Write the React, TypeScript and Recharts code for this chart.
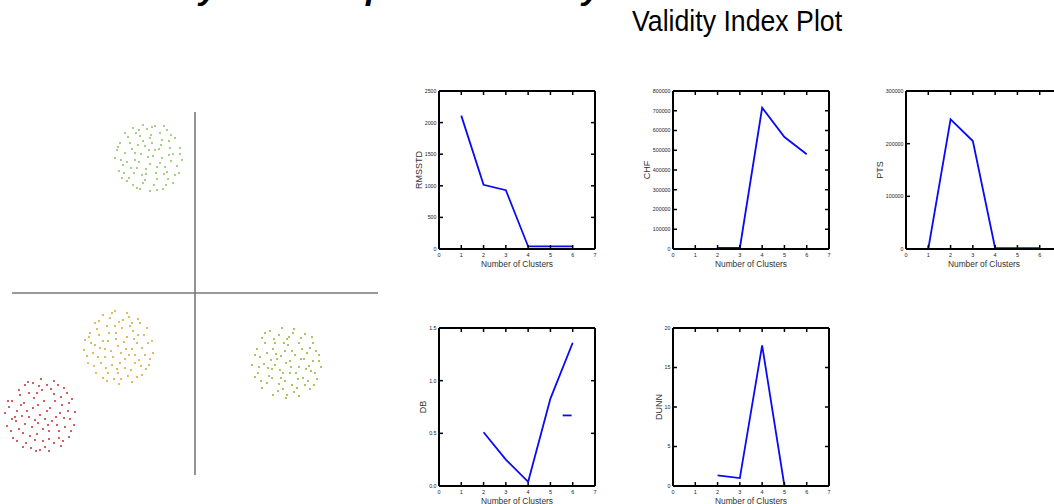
import React from 'react';
import { LineChart, Line, XAxis, YAxis, ScatterChart, Scatter, ReferenceLine } from 'recharts';

const FONT = '"Liberation Sans", Arial, Helvetica, sans-serif';

// ---------- validity index data ----------
const clusterTicks = [0, 1, 2, 3, 4, 5, 6, 7];

const rmsstdK = [1, 2, 3, 4, 5, 6];
const rmsstdValues = [2110, 1015, 930, 40, 40, 40];
const rmsstdTicks = [0, 500, 1000, 1500, 2000, 2500];

const chfK = [2, 3, 4, 5, 6];
const chfValues = [5000, 5000, 715000, 567000, 480000];
const chfTicks = [0, 100000, 200000, 300000, 400000, 500000, 600000, 700000, 800000];

const ptsK = [1, 2, 3, 4, 5, 6];
const ptsValues = [0, 246000, 205000, 1500, 1500, 1500];
const ptsTicks = [0, 100000, 200000, 300000];

const dbK = [2, 3, 4, 5, 6];
const dbValues = [0.51, 0.25, 0.04, 0.83, 1.36];
const dbExtraK = [5.55, 5.95];
const dbExtraValues = [0.67, 0.67];
const dbTicks = [0, 0.5, 1, 1.5];

const dunnK = [2, 3, 4, 5];
const dunnValues = [1.35, 1.0, 17.8, 0];
const dunnTicks = [0, 5, 10, 15, 20];

// ---------- scatter data (pixel-like units, origin at the cross) ----------
const crossH = [-183, 183];
const crossV = [181, -182];

const greenTop: number[][] = [
  [-75, 150], [-70, 160], [-62, 165], [-52, 168], [-40, 167], [-28, 163], [-20, 155], [-15, 145], [-13, 133], [-16, 120],
  [-22, 110], [-32, 104], [-45, 102], [-58, 105], [-68, 112], [-76, 122], [-80, 135], [-78, 143], [-65, 150], [-55, 157],
  [-44, 158], [-33, 153], [-25, 145], [-24, 132], [-28, 121], [-38, 114], [-50, 113], [-61, 120], [-68, 131], [-60, 140],
  [-50, 147], [-40, 143], [-33, 135], [-38, 126], [-49, 124], [-56, 131], [-47, 136], [-43, 150], [-57, 148], [-30, 126],
  [-64, 125], [-53, 118], [-35, 160], [-48, 164], [-70, 140], [-22, 139], [-41, 108], [-59, 160], [-72, 128], [-18, 127],
  [-27, 114], [-66, 115], [-45, 129], [-36, 144], [-54, 139], [-62, 108], [-31, 167], [-74, 133], [-26, 152], [-52, 110],
  [-46, 143], [-39, 120], [-58, 125], [-52, 152], [-34, 148], [-26, 138], [-63, 144], [-71, 120], [-20, 118], [-43, 166],
  [-67, 156], [-29, 108], [-55, 104], [-77, 146], [-38, 103], [-15, 139], [-60, 133], [-42, 137], [-49, 119], [-35, 130],
  [-56, 163], [-24, 158], [-73, 115], [-45, 155], [-31, 119],
];

const yellow: number[][] = [
  [-105, -40], [-100, -30], [-92, -22], [-80, -18], [-68, -20], [-57, -26], [-48, -35], [-43, -48], [-42, -60], [-46, -72],
  [-53, -82], [-63, -89], [-76, -91], [-88, -88], [-99, -80], [-107, -70], [-111, -57], [-110, -47], [-96, -42], [-88, -33],
  [-76, -29], [-65, -33], [-57, -42], [-53, -55], [-56, -67], [-64, -77], [-77, -80], [-89, -75], [-97, -64], [-100, -52],
  [-87, -48], [-79, -40], [-68, -44], [-63, -56], [-70, -66], [-82, -64], [-90, -56], [-77, -53], [-72, -27], [-60, -70],
  [-85, -25], [-50, -62], [-94, -70], [-102, -60], [-67, -83], [-81, -86], [-58, -50], [-74, -60], [-86, -40], [-62, -38],
  [-92, -85], [-47, -50], [-70, -75], [-98, -36], [-83, -72], [-55, -30], [-79, -46], [-66, -62], [-104, -50], [-73, -35],
  [-84, -58], [-71, -49], [-61, -46], [-92, -48], [-75, -70], [-66, -24], [-96, -28], [-51, -42], [-108, -63], [-87, -80],
  [-58, -84], [-45, -66], [-101, -73], [-74, -86], [-69, -56], [-80, -33], [-90, -64], [-60, -62], [-83, -20], [-49, -76],
  [-106, -44], [-63, -30], [-78, -76], [-95, -55], [-54, -73],
];

const greenRight: number[][] = [
  [62, -56], [67, -45], [75, -38], [87, -35], [99, -36], [110, -41], [118, -50], [124, -62], [126, -74], [122, -86],
  [115, -96], [104, -103], [91, -105], [78, -102], [67, -95], [60, -84], [57, -72], [72, -60], [80, -50], [92, -46],
  [104, -50], [112, -60], [114, -73], [108, -85], [97, -92], [84, -91], [74, -83], [69, -71], [82, -66], [90, -58],
  [100, -62], [104, -74], [95, -80], [85, -77], [91, -70], [78, -56], [98, -40], [118, -68], [65, -64], [88, -96],
  [110, -92], [120, -80], [72, -90], [84, -42], [106, -45], [95, -68], [77, -76], [103, -86], [115, -55], [63, -80],
  [86, -85], [99, -99], [81, -61], [109, -66], [93, -52], [70, -50], [121, -58], [116, -78], [90, -88], [76, -67],
  [86, -63], [96, -74], [79, -46], [107, -56], [101, -80], [73, -75], [89, -50], [113, -88], [66, -88], [92, -102],
  [124, -68], [60, -62], [83, -98], [117, -44], [70, -40], [102, -95], [88, -80], [111, -76], [77, -85], [94, -44],
  [80, -72], [106, -66], [97, -58], [64, -74], [119, -92],
];

const red: number[][] = [
  [-183, -108], [-176, -97], [-167, -89], [-154, -86], [-141, -88], [-131, -95], [-123, -106], [-120, -119], [-121, -132], [-126, -144],
  [-134, -153], [-146, -158], [-159, -158], [-172, -154], [-182, -145], [-188, -133], [-190, -120], [-174, -112], [-166, -100], [-153, -97],
  [-141, -101], [-133, -112], [-131, -125], [-136, -138], [-146, -146], [-160, -147], [-172, -140], [-179, -128], [-166, -124], [-157, -112],
  [-145, -115], [-143, -128], [-152, -136], [-163, -134], [-155, -122], [-170, -92], [-128, -100], [-186, -114], [-124, -138], [-150, -154],
  [-178, -148], [-161, -105], [-138, -132], [-168, -118], [-148, -92], [-132, -148], [-184, -138], [-158, -141], [-175, -102], [-140, -108],
  [-150, -126], [-164, -155], [-127, -118], [-180, -124], [-146, -138], [-137, -92], [-170, -131], [-156, -93], [-162, -115], [-135, -120],
  [-160, -127], [-148, -118], [-171, -110], [-139, -124], [-158, -100], [-176, -136], [-130, -134], [-152, -148], [-183, -126], [-144, -96],
  [-165, -143], [-126, -110], [-169, -150], [-151, -108], [-134, -104], [-187, -108], [-141, -150], [-162, -90], [-178, -118], [-147, -132],
  [-155, -157], [-125, -126], [-173, -123], [-136, -145], [-157, -130],
];

const clusterColors = ['#86c25c', '#d3a631', '#8ab336', '#c52b2b'];
const clusters = [greenTop, yellow, greenRight, red];

type Pt = { k: number; v: number };
const toSeries = (ks: number[], vs: number[]): Pt[] => ks.map((k, i) => ({ k, v: vs[i] }));
const toXY = (pts: number[][]) => pts.map((p) => ({ x: p[0], y: p[1] }));

const LINE_BLUE = '#0a0af5';
const PW = 156;
const PH = 158;

function SmallChart(props: {
  plotLeft: number;
  plotTop: number;
  labelGap: number;
  yLabel: string;
  yTicks: number[];
  yFmt?: (v: number) => string;
  series: Pt[];
  extra?: Pt[];
}) {
  const { plotLeft, plotTop, labelGap, yLabel, yTicks, series, extra } = props;
  const fmt = props.yFmt || ((v: number) => String(v));
  const mL = 2, mT = 4, mR = 5, mB = 6;
  const yW = labelGap * 2;
  const topH = 1, rightW = 1, bottomH = 30;
  const width = mL + yW + PW + rightW + mR;
  const height = mT + topH + PH + bottomH + mB;
  const left = plotLeft - mL - yW;
  const top = plotTop - mT - topH;
  const yMax = yTicks[yTicks.length - 1];

  const leftTick = (p: any) => (
    <g>
      <line x1={p.x} x2={p.x + 4} y1={p.y} y2={p.y} stroke="#000" strokeWidth={1.5} />
      <text x={p.x - 2.5} y={p.y} dy="0.36em" textAnchor="end" fontSize={5.3} fill="#222">
        {fmt(p.payload.value)}
      </text>
    </g>
  );
  const rightTick = (p: any) => (
    <line x1={p.x} x2={p.x - 4} y1={p.y} y2={p.y} stroke="#000" strokeWidth={1.5} />
  );
  const bottomTick = (p: any) => (
    <g>
      <line x1={p.x} x2={p.x} y1={p.y} y2={p.y - 4} stroke="#000" strokeWidth={1.5} />
      <text x={p.x} y={p.y + 7.5} textAnchor="middle" fontSize={5.5} fill="#222">
        {p.payload.value}
      </text>
    </g>
  );
  const topTick = (p: any) => (
    <line x1={p.x} x2={p.x} y1={p.y} y2={p.y + 4} stroke="#000" strokeWidth={1.5} />
  );
  const axisLine = { stroke: '#000', strokeWidth: 2 };

  return (
    <div style={{ position: 'absolute', left, top, width, height }}>
      <LineChart width={width} height={height} margin={{ top: mT, right: mR, bottom: mB, left: mL }}>
        <XAxis
          xAxisId="b"
          type="number"
          dataKey="k"
          domain={[0, 7]}
          ticks={clusterTicks}
          interval={0}
          allowDataOverflow
          height={bottomH}
          tickSize={0}
          tickMargin={0}
          tickLine={false}
          axisLine={axisLine}
          tick={bottomTick}
          label={{ value: 'Number of Clusters', position: 'center', fontSize: 8.4, fill: '#333' }}
        />
        <XAxis
          xAxisId="t"
          orientation="top"
          type="number"
          dataKey="k"
          domain={[0, 7]}
          ticks={clusterTicks}
          interval={0}
          allowDataOverflow
          height={topH}
          tickSize={0}
          tickMargin={0}
          tickLine={false}
          axisLine={axisLine}
          tick={topTick}
        />
        <YAxis
          yAxisId="l"
          type="number"
          domain={[0, yMax]}
          ticks={yTicks}
          interval={0}
          allowDataOverflow
          width={yW}
          tickSize={0}
          tickMargin={0}
          tickLine={false}
          axisLine={axisLine}
          tick={leftTick}
          label={{ value: yLabel, angle: -90, position: 'center', fontSize: 9, fill: '#333' }}
        />
        <YAxis
          yAxisId="r"
          orientation="right"
          type="number"
          domain={[0, yMax]}
          ticks={yTicks}
          interval={0}
          allowDataOverflow
          width={rightW}
          tickSize={0}
          tickMargin={0}
          tickLine={false}
          axisLine={axisLine}
          tick={rightTick}
        />
        <Line
          xAxisId="b"
          yAxisId="l"
          data={series}
          dataKey="v"
          type="linear"
          stroke={LINE_BLUE}
          strokeWidth={1.8}
          dot={false}
          isAnimationActive={false}
        />
        {extra ? (
          <Line
            xAxisId="b"
            yAxisId="l"
            data={extra}
            dataKey="v"
            type="linear"
            stroke={LINE_BLUE}
            strokeWidth={1.8}
            dot={false}
            isAnimationActive={false}
          />
        ) : null}
      </LineChart>
    </div>
  );
}

export default function App() {
  return (
    <div
      style={{
        position: 'absolute',
        left: 0,
        top: 0,
        width: 1054,
        height: 504,
        overflow: 'hidden',
        background: '#fff',
        fontFamily: FONT,
      }}
    >
      {/* partially visible heading (only descenders show) */}
      <svg width={1054} height={20} style={{ position: 'absolute', left: 0, top: 0 }}>
        <g fontFamily={FONT} fontWeight="bold" fontStyle="italic" fontSize={34} fill="#000">
          <text x={199} y={-1}>y</text>
          <text x={366} y={-1}>p</text>
          <text x={582} y={-1}>y</text>
        </g>
      </svg>

      <div
        style={{
          position: 'absolute',
          left: 632,
          top: 7,
          fontSize: 29,
          lineHeight: 1,
          whiteSpace: 'nowrap',
          color: '#000',
          transform: 'scaleX(0.92)',
          transformOrigin: 'left top',
        }}
      >
        Validity Index Plot
      </div>

      {/* scatter of clusters */}
      <div style={{ position: 'absolute', left: 0, top: 93, width: 390, height: 400 }}>
        <ScatterChart width={390} height={400} margin={{ top: 0, right: 0, bottom: 0, left: 0 }}>
          <XAxis type="number" dataKey="x" domain={[-195, 195]} hide allowDataOverflow />
          <YAxis type="number" dataKey="y" domain={[-200, 200]} hide allowDataOverflow />
          <ReferenceLine
            segment={[{ x: crossH[0], y: 0 }, { x: crossH[1], y: 0 }]}
            stroke="#777"
            strokeWidth={1.6}
          />
          <ReferenceLine
            segment={[{ x: 0, y: crossV[0] }, { x: 0, y: crossV[1] }]}
            stroke="#777"
            strokeWidth={1.6}
          />
          {clusters.map((c, i) => (
            <Scatter
              key={i}
              data={toXY(c)}
              isAnimationActive={false}
              shape={(p: any) => <circle cx={p.cx} cy={p.cy} r={1.0} fill={clusterColors[i]} />}
            />
          ))}
        </ScatterChart>
      </div>

      <SmallChart plotLeft={439} plotTop={91} labelGap={20} yLabel="RMSSTD" yTicks={rmsstdTicks} series={toSeries(rmsstdK, rmsstdValues)} />
      <SmallChart plotLeft={673} plotTop={91} labelGap={26} yLabel="CHF" yTicks={chfTicks} series={toSeries(chfK, chfValues)} />
      <SmallChart plotLeft={906} plotTop={91} labelGap={26} yLabel="PTS" yTicks={ptsTicks} series={toSeries(ptsK, ptsValues)} />
      <SmallChart
        plotLeft={439}
        plotTop={328}
        labelGap={16}
        yLabel="DB"
        yTicks={dbTicks}
        yFmt={(v: number) => v.toFixed(1)}
        series={toSeries(dbK, dbValues)}
        extra={toSeries(dbExtraK, dbExtraValues)}
      />
      <SmallChart plotLeft={673} plotTop={328} labelGap={14} yLabel="DUNN" yTicks={dunnTicks} series={toSeries(dunnK, dunnValues)} />
    </div>
  );
}
